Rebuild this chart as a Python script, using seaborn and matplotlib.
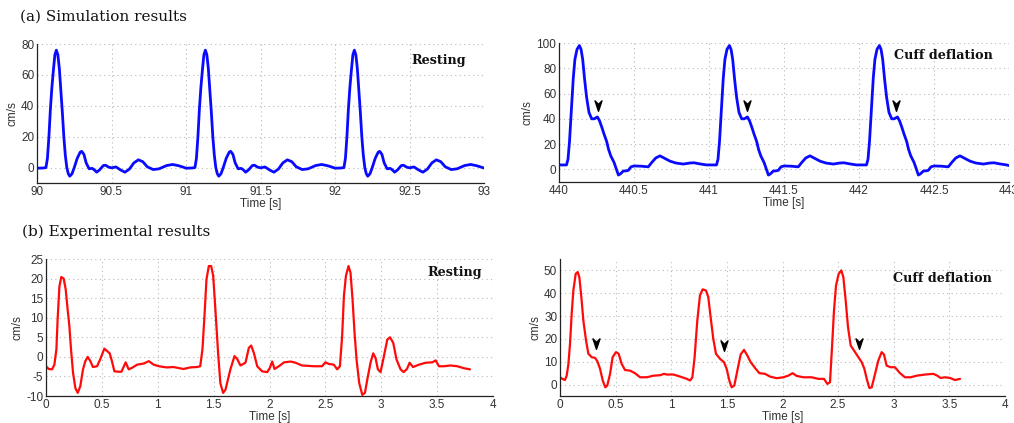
"""Doppler velocity traces: simulated vs. measured, resting vs. cuff deflation."""

import matplotlib

matplotlib.use("Agg")

import matplotlib.pyplot as plt  # noqa: E402
import seaborn as sns  # noqa: E402
from matplotlib.path import Path  # noqa: E402
from matplotlib.ticker import FixedLocator, FuncFormatter  # noqa: E402

# --- data --------------------------------------------------------------------

# (a) simulation, resting
sim_rest_t = [
    90.00, 90.04, 90.06, 90.07, 90.08, 90.09, 90.10, 90.11, 90.12, 90.13,
    90.14, 90.15, 90.16, 90.17, 90.18, 90.19, 90.20, 90.21, 90.22, 90.235,
    90.25, 90.27, 90.29, 90.30, 90.315, 90.33, 90.35, 90.37, 90.385, 90.40,
    90.42, 90.445, 90.46, 90.48, 90.50, 90.53, 90.56, 90.59, 90.62, 90.65,
    90.68, 90.71, 90.74, 90.78, 90.82, 90.87, 90.91, 90.95, 90.98,
    91.00, 91.04, 91.06, 91.07, 91.08, 91.09, 91.10, 91.11, 91.12, 91.13,
    91.14, 91.15, 91.16, 91.17, 91.18, 91.19, 91.20, 91.21, 91.22, 91.235,
    91.25, 91.27, 91.29, 91.30, 91.315, 91.33, 91.35, 91.37, 91.385, 91.40,
    91.42, 91.445, 91.46, 91.48, 91.50, 91.53, 91.56, 91.59, 91.62, 91.65,
    91.68, 91.71, 91.74, 91.78, 91.82, 91.87, 91.91, 91.95, 91.98,
    92.00, 92.04, 92.06, 92.07, 92.08, 92.09, 92.10, 92.11, 92.12, 92.13,
    92.14, 92.15, 92.16, 92.17, 92.18, 92.19, 92.20, 92.21, 92.22, 92.235,
    92.25, 92.27, 92.29, 92.30, 92.315, 92.33, 92.35, 92.37, 92.385, 92.40,
    92.42, 92.445, 92.46, 92.48, 92.50, 92.53, 92.56, 92.59, 92.62, 92.65,
    92.68, 92.71, 92.74, 92.78, 92.82, 92.87, 92.91, 92.95, 93.00,
]
sim_rest_v = [
    -0.4, -0.3, 0, 6, 20, 38, 52, 63, 73, 76,
    73, 64, 50, 36, 20, 8, 0, -4, -5.6, -4,
    0, 6, 10, 10.5, 8.5, 3, -0.8, -0.5, -1.5, -3,
    -1.5, 1.3, 1.5, 0.3, -0.2, 0.4, -1.5, -3, -1, 3,
    5, 3.8, 0.5, -1.3, -0.8, 1.3, 2, 1.2, 0.3,
    -0.4, -0.3, 0, 6, 20, 38, 52, 63, 73, 76,
    73, 64, 50, 36, 20, 8, 0, -4, -5.6, -4,
    0, 6, 10, 10.5, 8.5, 3, -0.8, -0.5, -1.5, -3,
    -1.5, 1.3, 1.5, 0.3, -0.2, 0.4, -1.5, -3, -1, 3,
    5, 3.8, 0.5, -1.3, -0.8, 1.3, 2, 1.2, 0.3,
    -0.4, -0.3, 0, 6, 20, 38, 52, 63, 73, 76,
    73, 64, 50, 36, 20, 8, 0, -4, -5.6, -4,
    0, 6, 10, 10.5, 8.5, 3, -0.8, -0.5, -1.5, -3,
    -1.5, 1.3, 1.5, 0.3, -0.2, 0.4, -1.5, -3, -1, 3,
    5, 3.8, 0.5, -1.3, -0.8, 1.3, 2, 1.2, -0.3,
]

# (a) simulation, cuff deflation
sim_cuff_t = [
    440.00, 440.05, 440.06, 440.07, 440.084, 440.095, 440.106, 440.12, 440.136, 440.147,
    440.158, 440.17, 440.184, 440.20, 440.218, 440.235, 440.256, 440.27, 440.285, 440.30,
    440.318, 440.33, 440.345, 440.367, 440.38, 440.396, 440.41, 440.429, 440.445, 440.462,
    440.48, 440.50, 440.55, 440.595, 440.618, 440.645, 440.673, 440.70, 440.74, 440.78,
    440.829, 440.87, 440.90, 440.94, 440.984,
    441.00, 441.05, 441.06, 441.07, 441.084, 441.095, 441.106, 441.12, 441.136, 441.147,
    441.158, 441.17, 441.184, 441.20, 441.218, 441.235, 441.256, 441.27, 441.285, 441.30,
    441.318, 441.33, 441.345, 441.367, 441.38, 441.396, 441.41, 441.429, 441.445, 441.462,
    441.48, 441.50, 441.55, 441.595, 441.618, 441.645, 441.673, 441.70, 441.74, 441.78,
    441.829, 441.87, 441.90, 441.94, 441.984,
    442.00, 442.05, 442.06, 442.07, 442.084, 442.095, 442.106, 442.12, 442.136, 442.147,
    442.158, 442.17, 442.184, 442.20, 442.218, 442.235, 442.256, 442.27, 442.285, 442.30,
    442.318, 442.33, 442.345, 442.367, 442.38, 442.396, 442.41, 442.429, 442.445, 442.462,
    442.48, 442.50, 442.55, 442.595, 442.618, 442.645, 442.673, 442.70, 442.74, 442.78,
    442.829, 442.87, 442.90, 442.94, 442.984, 443.00,
]
sim_cuff_v = [
    3.5, 3.5, 8, 22, 50, 72, 87, 95, 98, 95,
    87, 72, 57, 45, 40, 40, 41.5, 38.5, 33.5, 28,
    22, 16, 10.7, 5.5, 1, -4.5, -3.5, -1.3, -1.2, -0.8,
    2, 2.7, 2.5, 2, 5.4, 9, 10.7, 9, 6.5, 5,
    4.2, 5, 5.2, 4.3, 3.5,
    3.5, 3.5, 8, 22, 50, 72, 87, 95, 98, 95,
    87, 72, 57, 45, 40, 40, 41.5, 38.5, 33.5, 28,
    22, 16, 10.7, 5.5, 1, -4.5, -3.5, -1.3, -1.2, -0.8,
    2, 2.7, 2.5, 2, 5.4, 9, 10.7, 9, 6.5, 5,
    4.2, 5, 5.2, 4.3, 3.5,
    3.5, 3.5, 8, 22, 50, 72, 87, 95, 98, 95,
    87, 72, 57, 45, 40, 40, 41.5, 38.5, 33.5, 28,
    22, 16, 10.7, 5.5, 1, -4.5, -3.5, -1.3, -1.2, -0.8,
    2, 2.7, 2.5, 2, 5.4, 9, 10.7, 9, 6.5, 5,
    4.2, 5, 5.2, 4.3, 3.5, 3.0,
]
sim_cuff_arrow_t = [440.258, 441.252, 442.247]
sim_cuff_arrow_v = [51, 51, 51]

# (b) experiment, resting
exp_rest_t = [
    0.0, 0.024, 0.054, 0.075, 0.093, 0.104, 0.12, 0.137, 0.158, 0.176,
    0.194, 0.209, 0.224, 0.242, 0.263, 0.284, 0.307, 0.331, 0.352, 0.373,
    0.397, 0.42, 0.457, 0.487, 0.522, 0.546, 0.57, 0.59, 0.612, 0.65,
    0.675, 0.713, 0.74, 0.77, 0.815, 0.875, 0.92, 0.964, 1.01, 1.08,
    1.14, 1.23, 1.29, 1.35, 1.38, 1.40, 1.418, 1.436, 1.457, 1.478,
    1.496, 1.51, 1.525, 1.54, 1.56, 1.585, 1.606, 1.65, 1.687, 1.71,
    1.74, 1.785, 1.815, 1.836, 1.86, 1.89, 1.934, 1.98, 2.003, 2.024,
    2.045, 2.084, 2.13, 2.19, 2.233, 2.29, 2.4, 2.47, 2.5, 2.53,
    2.576, 2.606, 2.63, 2.65, 2.666, 2.684, 2.707, 2.725, 2.743, 2.761,
    2.779, 2.803, 2.83, 2.854, 2.875, 2.904, 2.928, 2.949, 2.97, 2.994,
    3.024, 3.054, 3.078, 3.107, 3.137, 3.173, 3.2, 3.23, 3.254, 3.284,
    3.337, 3.397, 3.457, 3.487, 3.516, 3.561, 3.62, 3.68, 3.74, 3.794,
]
exp_rest_v = [
    -2.4, -3.1, -3.2, -2.0, 1.9, 9.6, 18.0, 20.4, 20.0, 17.3,
    12.0, 7.9, 1.9, -4.1, -8.0, -9.2, -7.5, -3.2, -1.1, 0.0,
    -1.1, -2.6, -2.4, -0.5, 2.1, 1.5, 0.9, -1.1, -3.7, -3.8,
    -3.8, -1.4, -3.2, -2.8, -2.0, -1.7, -1.1, -2.0, -2.4, -2.7,
    -2.6, -3.1, -2.7, -2.6, -2.4, 1.9, 10.4, 19.8, 23.2, 23.2,
    20.7, 14.7, 7.9, 1.0, -6.7, -9.2, -8.4, -3.2, 0.2, -0.5,
    -2.2, -1.5, 2.3, 2.9, 1.0, -2.4, -3.7, -3.9, -2.8, -1.2,
    -3.1, -2.4, -1.4, -1.2, -1.5, -2.2, -2.4, -2.4, -1.4, -1.8,
    -2.0, -3.2, -2.4, 5.3, 15.6, 20.7, 23.2, 21.5, 14.7, 6.2,
    -0.7, -6.7, -9.7, -9.2, -5.8, -1.5, 0.9, -0.3, -3.2, -3.9,
    0.2, 4.4, 5.0, 3.6, -0.7, -3.2, -3.9, -3.1, -1.5, -2.6,
    -2.0, -1.5, -1.4, -0.9, -2.4, -2.4, -2.2, -2.4, -2.9, -3.2,
]

# (b) experiment, cuff deflation
exp_cuff_t = [
    0.0, 0.021, 0.045, 0.06, 0.075, 0.09, 0.105, 0.12, 0.141, 0.159,
    0.174, 0.192, 0.21, 0.234, 0.255, 0.285, 0.315, 0.336, 0.36, 0.384,
    0.407, 0.425, 0.45, 0.473, 0.503, 0.527, 0.554, 0.584, 0.63, 0.674,
    0.72, 0.78, 0.84, 0.9, 0.935, 0.96, 1.02, 1.08, 1.14, 1.17,
    1.19, 1.21, 1.234, 1.258, 1.282, 1.312, 1.333, 1.354, 1.378, 1.402,
    1.438, 1.474, 1.498, 1.522, 1.543, 1.567, 1.594, 1.624, 1.654, 1.684,
    1.714, 1.753, 1.792, 1.843, 1.888, 1.948, 2.007, 2.052, 2.091, 2.127,
    2.187, 2.262, 2.322, 2.373, 2.403, 2.427, 2.445, 2.463, 2.481, 2.505,
    2.529, 2.547, 2.568, 2.589, 2.613, 2.643, 2.682, 2.712, 2.736, 2.757,
    2.781, 2.802, 2.832, 2.861, 2.891, 2.912, 2.936, 2.972, 3.011, 3.056,
    3.101, 3.152, 3.206, 3.281, 3.356, 3.391, 3.421, 3.46, 3.506, 3.55,
    3.596,
]
exp_cuff_v = [
    3.2, 2.5, 2.0, 3.9, 8.8, 17.8, 31.0, 41.2, 48.5, 49.3,
    47.0, 38.3, 28.0, 19.3, 13.5, 12.0, 11.7, 10.2, 6.9, 1.8,
    -1.2, -0.4, 4.7, 12.0, 14.2, 13.5, 9.1, 6.4, 6.1, 5.0,
    3.2, 3.2, 3.9, 4.1, 4.7, 4.4, 4.4, 3.5, 2.5, 1.8,
    3.2, 12.0, 28.0, 39.0, 41.7, 41.2, 38.3, 29.5, 20.0, 13.5,
    11.3, 9.8, 6.9, 1.8, -1.2, -0.4, 6.1, 13.2, 15.2, 12.7,
    9.8, 7.3, 5.0, 4.7, 3.5, 2.8, 3.2, 3.9, 5.0, 3.8,
    3.2, 3.2, 2.5, 2.5, 0.3, 1.0, 16.4, 32.5, 43.4, 48.5,
    50.0, 47.0, 36.8, 25.1, 17.1, 14.9, 12.0, 9.8, 6.9, 2.5,
    -1.5, -1.2, 4.7, 10.5, 14.2, 13.2, 8.3, 7.6, 7.6, 5.0,
    3.2, 3.2, 3.9, 4.4, 4.7, 3.9, 2.9, 3.2, 2.9, 2.0,
    2.5,
]
exp_cuff_arrow_t = [0.325, 1.475, 2.69]
exp_cuff_arrow_v = [18.0, 17.5, 18.0]

SIM_COLOR = "#0a0aff"
EXP_COLOR = "#ff0a0a"

# downward chevron used to flag the dicrotic notch
ARROW = Path(
    [(0, -1.0), (-0.6, 0.8), (0, 0.2), (0.6, 0.8), (0, -1.0)],
    [Path.MOVETO, Path.LINETO, Path.LINETO, Path.LINETO, Path.CLOSEPOLY],
)

sns.set_theme(style="white")
plt.rcParams["font.family"] = ["Liberation Sans", "DejaVu Sans"]

fig = plt.figure(figsize=(10.14, 4.23), dpi=100)
W, H = 1014, 423


def _axes(left, top, right, bottom):
    return fig.add_axes([left / W, 1 - bottom / H, (right - left) / W, (bottom - top) / H])


def _style(ax, xlim, ylim, xticks, yticks, label, label_xy):
    ax.set_xlim(*xlim)
    ax.set_ylim(*ylim)
    ax.xaxis.set_major_locator(FixedLocator(xticks))
    ax.yaxis.set_major_locator(FixedLocator(yticks))
    ax.xaxis.set_major_formatter(FuncFormatter(lambda v, _: f"{v:g}"))
    ax.yaxis.set_major_formatter(FuncFormatter(lambda v, _: f"{v:g}"))
    ax.grid(True, linestyle=(0, (1, 3)), color="#b8b8b8", linewidth=0.8)
    for side in ("top", "right"):
        ax.spines[side].set_visible(False)
    for side in ("left", "bottom"):
        ax.spines[side].set_color("#222222")
        ax.spines[side].set_linewidth(0.9)
    ax.tick_params(direction="in", length=3, width=0.8, colors="#222222",
                   labelsize=8.5, labelcolor="#333333", pad=2)
    ax.set_xlabel("Time [s]", fontsize=8.5, color="#333333", labelpad=0)
    ax.set_ylabel("cm/s", fontsize=8.5, color="#333333", labelpad=2)
    ax.text(*label_xy, label, transform=ax.transAxes, ha="right", va="center",
            fontsize=9.2, fontweight="bold", family="DejaVu Serif", color="#111111")


# (a) simulation results
ax1 = _axes(37, 44, 484, 183)
sns.lineplot(x=sim_rest_t, y=sim_rest_v, ax=ax1, color=SIM_COLOR, linewidth=2.0,
             sort=False, estimator=None)
_style(ax1, (90, 93), (-10, 80), [90, 90.5, 91, 91.5, 92, 92.5, 93],
       [0, 20, 40, 60, 80], "Resting", (0.96, 0.88))

ax2 = _axes(559, 43, 1009, 182)
sns.lineplot(x=sim_cuff_t, y=sim_cuff_v, ax=ax2, color=SIM_COLOR, linewidth=2.0,
             sort=False, estimator=None)
ax2.scatter(sim_cuff_arrow_t, sim_cuff_arrow_v, marker=ARROW, s=70, color="black",
            zorder=5)
_style(ax2, (440, 443), (-10, 100), [440, 440.5, 441, 441.5, 442, 442.5, 443],
       [0, 20, 40, 60, 80, 100], "Cuff deflation", (0.965, 0.91))

# (b) experimental results
ax3 = _axes(46, 259, 493, 396)
sns.lineplot(x=exp_rest_t, y=exp_rest_v, ax=ax3, color=EXP_COLOR, linewidth=1.6,
             sort=False, estimator=None)
_style(ax3, (0, 4), (-10, 25), [0, 0.5, 1, 1.5, 2, 2.5, 3, 3.5, 4],
       [-10, -5, 0, 5, 10, 15, 20, 25], "Resting", (0.975, 0.9))

ax4 = _axes(560, 259, 1005, 396)
sns.lineplot(x=exp_cuff_t, y=exp_cuff_v, ax=ax4, color=EXP_COLOR, linewidth=1.6,
             sort=False, estimator=None)
ax4.scatter(exp_cuff_arrow_t, exp_cuff_arrow_v, marker=ARROW, s=70, color="black",
            zorder=5)
_style(ax4, (0, 4), (-5, 55), [0, 0.5, 1, 1.5, 2, 2.5, 3, 3.5, 4],
       [0, 10, 20, 30, 40, 50], "Cuff deflation", (0.97, 0.86))

fig.text(20 / W, 1 - 17 / H, "(a) Simulation results", family="DejaVu Serif",
         fontsize=11, va="center", ha="left", color="#111111")
fig.text(22 / W, 1 - 232 / H, "(b) Experimental results", family="DejaVu Serif",
         fontsize=11, va="center", ha="left", color="#111111")

fig.savefig("out.png", dpi=100)
plt.close(fig)
